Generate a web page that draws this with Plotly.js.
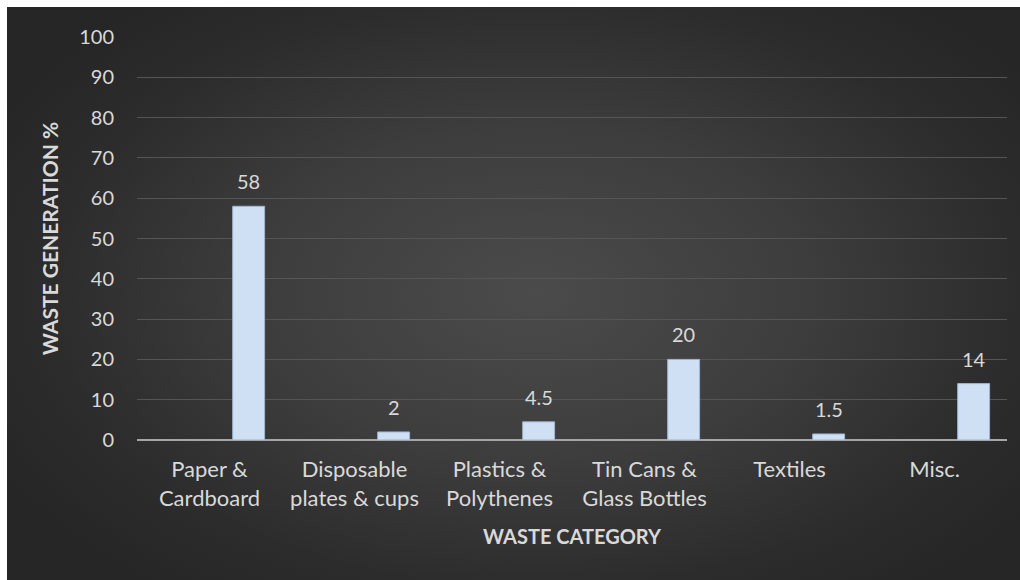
<!DOCTYPE html>
<html>
<head>
<meta charset="utf-8">
<script src="https://cdn.plot.ly/plotly-3.0.1.min.js"></script>
<style>
  html, body { margin:0; padding:0; background:#ffffff; width:1020px; height:580px; overflow:hidden; }
  #bg { position:absolute; left:7px; top:7px; width:1013px; height:573px;
        background: radial-gradient(ellipse 60% 65% at 52% 50%, #4b4b4b 0%, #3d3d3d 45%, #2c2c2c 80%, #262626 100%); }
  #chart { position:absolute; left:0; top:0; width:1020px; height:580px; }
</style>
</head>
<body>
<div id="bg"></div>
<div id="chart"></div>
<script>
const categories = ["Paper &<br>Cardboard", "Disposable<br>plates & cups", "Plastics &<br>Polythenes", "Tin Cans &<br>Glass Bottles", "Textiles", "Misc."];
const wastePercent = [58, 2, 4.5, 20, 1.5, 14];
const yTickValues = [0, 10, 20, 30, 40, 50, 60, 70, 80, 90, 100];

const txtColor = "#d9d9d9";
const fontFam = "Lato, 'Open Sans', sans-serif";

const barWidth = 0.22, barOffset = 0.16;
const catPx = (1020 - 137 - 13) / categories.length;

const trace = {
  type: "bar",
  x: categories,
  y: wastePercent,
  width: barWidth,
  offset: barOffset,
  marker: { color: "#cfdff4", line: { color: "#9db4d4", width: 1 } },
  hoverinfo: "skip"
};

const labels = categories.map((c, i) => ({
  x: c, y: wastePercent[i], xref: "x", yref: "y",
  text: String(wastePercent[i]),
  showarrow: false,
  xanchor: "center", yanchor: "middle",
  xshift: (barOffset + barWidth / 2) * catPx,
  yshift: 25,
  font: { size: 20, color: txtColor, family: fontFam }
}));

const layout = {
  width: 1020, height: 580,
  margin: { l: 137, r: 13, t: 37, b: 140 },
  paper_bgcolor: "rgba(0,0,0,0)",
  plot_bgcolor: "rgba(0,0,0,0)",
  showlegend: false,
  font: { family: fontFam, color: txtColor },
  annotations: labels,
  xaxis: {
    type: "category",
    tickfont: { size: 22, color: txtColor, family: fontFam },
    ticklabelstandoff: 14,
    showgrid: false,
    showline: false,
    zeroline: false,
    ticks: "",
    title: { text: "<b>WASTE CATEGORY</b>", font: { size: 20, color: txtColor, family: fontFam }, standoff: 20 }
  },
  yaxis: {
    range: [0, 100],
    tickvals: yTickValues,
    tickfont: { size: 20, color: txtColor, family: fontFam },
    ticklabelstandoff: 22,
    showgrid: true,
    gridcolor: "#555555",
    gridwidth: 1,
    zeroline: true,
    zerolinecolor: "#a6a6a6",
    zerolinewidth: 2,
    showline: false,
    ticks: "",
    title: { text: "<b>WASTE GENERATION %</b>", font: { size: 21, color: txtColor, family: fontFam }, standoff: 14 }
  }
};

Plotly.newPlot("chart", [trace], layout, { displayModeBar: false, staticPlot: true });
</script>
</body>
</html>
